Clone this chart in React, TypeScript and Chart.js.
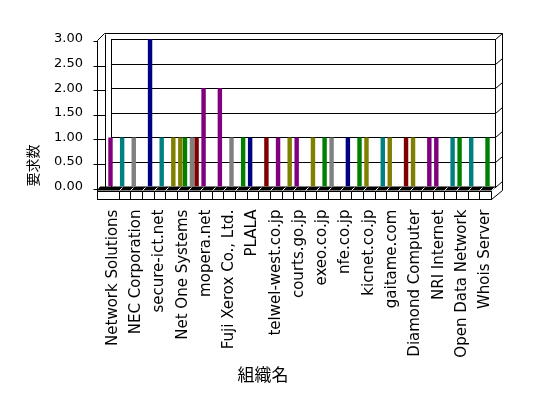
import React, { useEffect, useRef } from 'react';
import { Chart, registerables } from 'chart.js';

Chart.register(...registerables);

// Organisation names (only every second one is printed on the axis)
const categories: string[] = [
  'Network Solutions', '', 'NEC Corporation', '', 'secure-ict.net', '',
  'Net One Systems', '', 'mopera.net', '', 'Fuji Xerox Co., Ltd.', '',
  'PLALA', '', 'telwel-west.co.jp', '', 'courts.go.jp', '',
  'exeo.co.jp', '', 'nfe.co.jp', '', 'kicnet.co.jp', '',
  'gaitame.com', '', 'Diamond Computer', '', 'NRI Internet', '',
  'Open Data Network', '', 'Whois Server',
];

// Request counts, first bar slot of each category
const seriesA: (number | null)[] = [
  1, 1, 1, null, null, null, 1, 1, 2, null, null,
  null, 1, null, null, null, 1, null, null, 1, null, null,
  1, null, 1, null, 1, null, 1, null, 1, 1, null,
];

// Request counts, second bar slot of each category
const seriesB: (number | null)[] = [
  null, null, null, 3, 1, 1, 1, 1, null, 2, 1,
  1, null, 1, 1, 1, null, 1, 1, null, 1, 1,
  null, 1, null, 1, null, 1, null, 1, null, null, 1,
];

const yTickValues = [0, 0.5, 1, 1.5, 2, 2.5, 3];

const yTitle = '要求数';
const xTitle = '組織名';

// colour keys per bar
const colorKeysA = [
  'P', 'T', 'G', '', '', '', 'O', 'G', 'P', '', '',
  '', 'N', '', '', '', 'P', '', '', 'G', '', '',
  'O', '', 'O', '', 'O', '', 'P', '', 'GR', 'T', '',
];
const colorKeysB = [
  '', '', '', 'N', 'T', 'O', 'GR', 'R', '', 'P', 'G',
  'GR', '', 'R', 'P', 'O', '', 'O', 'GR', '', 'N', 'GR',
  '', 'T', '', 'R', '', 'P', '', 'T', '', '', 'GR',
];

const palette: Record<string, string> = {
  P: '#800080', T: '#008080', G: '#808080', N: '#000080',
  O: '#808000', GR: '#008000', R: '#800000', '': '#000000',
};

const frame3d = {
  id: 'frame3d',
  beforeDatasetsDraw(chart: any) {
    const { ctx, chartArea: ca, scales } = chart;
    const ys = scales.y;
    const n = categories.length;
    const catW = (ca.right - ca.left) / n;
    const l = ca.left, r = ca.right, t = ca.top, b = ca.bottom;
    const p = (v: number) => Math.round(v) + 0.5;
    const bl = l + 4, br = r + 4, dx = 7, dy = 6;
    const wl = l - 10;
    const line = (x1: number, y1: number, x2: number, y2: number) => {
      ctx.beginPath();
      ctx.moveTo(p(x1), p(y1));
      ctx.lineTo(p(x2), p(y2));
      ctx.stroke();
    };
    ctx.save();
    ctx.strokeStyle = '#000';
    ctx.lineWidth = 1;
    // back wall
    ctx.strokeRect(p(bl), p(t), Math.round(br - bl), Math.round(b - t));
    const tickPix = yTickValues.map((v) => ys.getPixelForValue(v));
    tickPix.forEach((yy: number, i: number) => {
      if (i > 0 && i < tickPix.length - 1) line(bl, yy, br, yy);
      line(br, yy, br + dx, yy - dy);
      if (i > 0 && i < tickPix.length - 1) line(wl, yy + 2, l - 2, yy + 2);
      line(wl - 4, yy + 2, wl, yy + 2);
    });
    // top edges
    line(wl, t + 1, wl + 7, t - dy);
    line(wl + 7, t - dy, br + dx, t - dy);
    // right wall outer edge
    line(br + dx, t - dy, br + dx, b + 3);
    line(br + dx, b + 3, r, b + 12);
    // left wall
    line(wl, t + 1, wl, b + 12);
    line(l - 2, t - dy + 1, l - 2, b);
    // floor top
    ctx.fillStyle = '#000';
    ctx.beginPath();
    ctx.moveTo(wl + 3, b);
    ctx.lineTo(br + 2, b);
    ctx.lineTo(r + 1, b + 4);
    ctx.lineTo(wl, b + 4);
    ctx.closePath();
    ctx.fill();
    ctx.strokeStyle = '#fff';
    for (let i = 1; i <= n; i++) {
      const xi = l + i * catW;
      line(xi, b + 3, xi + 3, b);
    }
    // floor front face
    ctx.strokeStyle = '#000';
    ctx.fillStyle = '#fff';
    ctx.fillRect(p(wl), p(b + 4), Math.round(r - wl), 8);
    ctx.strokeRect(p(wl), p(b + 4), Math.round(r - wl), 8);
    for (let i = 1; i < n; i++) {
      const xi = l + i * catW;
      line(xi, b + 4, xi, b + 12);
    }
    ctx.restore();
  },
};

export default function App() {
  const ref = useRef<HTMLCanvasElement | null>(null);
  useEffect(() => {
    if (!ref.current) return;
    const chart = new Chart(ref.current, {
      type: 'bar',
      data: {
        labels: categories,
        datasets: [
          {
            label: 'A',
            data: seriesA,
            backgroundColor: colorKeysA.map((k) => palette[k]),
            categoryPercentage: 0.8,
            barPercentage: 0.95,
          },
          {
            label: 'B',
            data: seriesB,
            backgroundColor: colorKeysB.map((k) => palette[k]),
            categoryPercentage: 0.8,
            barPercentage: 0.95,
          },
        ],
      },
      options: {
        responsive: false,
        animation: false,
        devicePixelRatio: 1,
        layout: { padding: { top: 39, right: 22, bottom: 0, left: 0 } },
        plugins: {
          legend: { display: false },
          tooltip: { enabled: false },
          title: {
            display: true,
            text: xTitle,
            position: 'bottom',
            color: '#000',
            font: { family: '"Noto Sans CJK JP"', size: 17, weight: 'normal' },
            padding: { top: 0, bottom: 13 },
          },
        },
        scales: {
          x: {
            grid: { display: false, drawTicks: false },
            border: { display: false },
            ticks: {
              autoSkip: false,
              maxRotation: 90,
              minRotation: 90,
              padding: 23,
              color: '#000',
              font: { family: '"DejaVu Sans"', size: 15 },
            },
            afterFit: (s: any) => {
              s.height = 178;
            },
          },
          y: {
            min: 0,
            max: 3,
            grid: { display: false, drawTicks: false },
            border: { display: false },
            afterBuildTicks: (s: any) => {
              s.ticks = yTickValues.map((v) => ({ value: v }));
            },
            ticks: {
              padding: 24,
              color: '#000',
              font: { family: '"DejaVu Sans"', size: 13 },
              callback: (v: any) => Number(v).toFixed(2),
            },
            title: {
              display: true,
              text: yTitle,
              align: 'start',
              color: '#000',
              font: { family: '"Noto Sans CJK JP"', size: 14 },
              padding: { top: 24, bottom: 0 },
            },
            afterFit: (s: any) => {
              s.width = 107;
            },
          },
          y2: {
            type: 'linear',
            position: 'right',
            grid: { display: false, drawTicks: false },
            border: { display: false },
            ticks: { display: false },
            afterFit: (s: any) => {
              s.width = 35;
            },
          },
        },
      },
      plugins: [frame3d],
    } as any);
    return () => chart.destroy();
  }, []);
  return (
    <div style={{ position: 'fixed', left: 0, top: 0, width: 548, height: 398, background: '#fff' }}>
      <canvas ref={ref} width={548} height={398} />
    </div>
  );
}
